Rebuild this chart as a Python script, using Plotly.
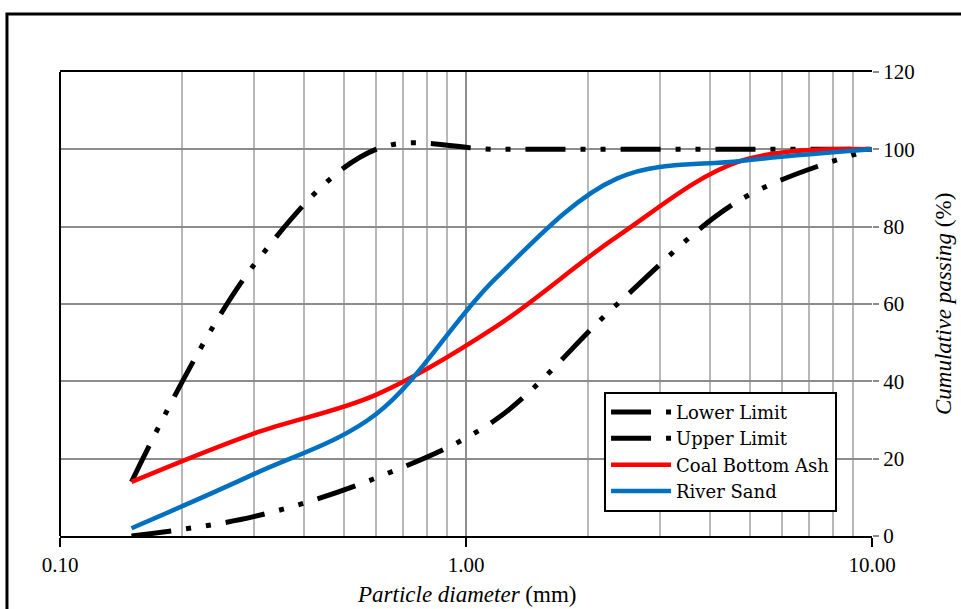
import plotly.graph_objects as go

# Data
sieve_mm = [0.15, 0.3, 0.6, 1.18, 2.36, 4.75, 10]
lower_limit = [0, 5, 15, 30, 60, 87, 100]
upper_limit = [14, 70, 100, 100, 100, 100, 100]
coal_bottom_ash = [14, 26.5, 36.5, 54, 77.5, 97, 100]
river_sand = [2, 16, 31.5, 66.5, 92.5, 97, 100]

x_tickvals = [0.1, 1, 10]
x_ticktext = ["0.10", "1.00", "10.00"]
x_minor = [0.2, 0.3, 0.4, 0.5, 0.6, 0.7, 0.8, 0.9, 2, 3, 4, 5, 6, 7, 8, 9]

FONT = "Liberation Serif"
LEGEND_FONT = "DejaVu Serif"
limit_dash = "40px,15px,5px,15px,5px,15px"

fig = go.Figure()
fig.add_trace(go.Scatter(x=sieve_mm, y=lower_limit, name="Lower Limit", mode="lines",
                         line=dict(color="black", width=5, dash=limit_dash, shape="spline")))
fig.add_trace(go.Scatter(x=sieve_mm, y=upper_limit, name="Upper Limit", mode="lines",
                         line=dict(color="black", width=5, dash=limit_dash, shape="spline")))
fig.add_trace(go.Scatter(x=sieve_mm, y=coal_bottom_ash, name="Coal Bottom Ash", mode="lines",
                         line=dict(color="#FF0000", width=4.5, shape="spline")))
fig.add_trace(go.Scatter(x=sieve_mm, y=river_sand, name="River Sand", mode="lines",
                         line=dict(color="#0070C0", width=4.5, shape="spline")))

fig.update_layout(
    width=961, height=609,
    margin=dict(l=60, r=89, t=72, b=73),
    paper_bgcolor="white", plot_bgcolor="white",
    font=dict(family=FONT, size=21, color="black"),
    showlegend=True,
    legend=dict(x=0.67, y=0.311, xanchor="left", yanchor="top",
                bordercolor="black", borderwidth=2, bgcolor="white",
                font=dict(family=LEGEND_FONT, size=18, color="black"),
                itemwidth=60, tracegroupgap=0),
    xaxis=dict(type="log", range=[-1, 1], tickmode="array", tickvals=x_tickvals,
               ticktext=x_ticktext, showgrid=True, gridcolor="#8c8c8c", gridwidth=1.5,
               minor=dict(tickmode="array", tickvals=x_minor, showgrid=True,
                          gridcolor="#b8b8b8", gridwidth=1.5, ticks=""),
               showline=True, linecolor="black", linewidth=2, mirror=True,
               ticks="outside", ticklen=9, tickwidth=2, tickcolor="black",
               zeroline=False, tickfont=dict(family=FONT, size=21)),
    yaxis=dict(side="right", range=[0, 120], tickmode="linear", tick0=0, dtick=20,
               showgrid=True, gridcolor="#8c8c8c", gridwidth=1.5,
               showline=False, zeroline=False,
               ticks="outside", ticklen=6, tickwidth=2, tickcolor="#8c8c8c",
               tickfont=dict(family=FONT, size=21)),
    shapes=[
        dict(type="line", xref="paper", yref="paper", x0=0, x1=0, y0=0, y1=1,
             line=dict(color="black", width=2)),
        dict(type="rect", xref="paper", yref="paper", x0=-0.0653, x1=1.3, y0=-0.3, y1=1.125,
             line=dict(color="black", width=3), fillcolor="rgba(0,0,0,0)"),
    ],
    annotations=[
        dict(text="<i>Particle diameter</i> (mm)", xref="paper", yref="paper",
             x=0.5, y=-0.127, xanchor="center", yanchor="middle", showarrow=False,
             font=dict(family=FONT, size=23)),
        dict(text="<i>Cumulative passing</i> (%)", xref="paper", yref="paper",
             x=1.0874, y=0.5, xanchor="center", yanchor="middle", showarrow=False,
             textangle=-90, font=dict(family=FONT, size=23)),
    ],
)

fig.write_html("out.html")
